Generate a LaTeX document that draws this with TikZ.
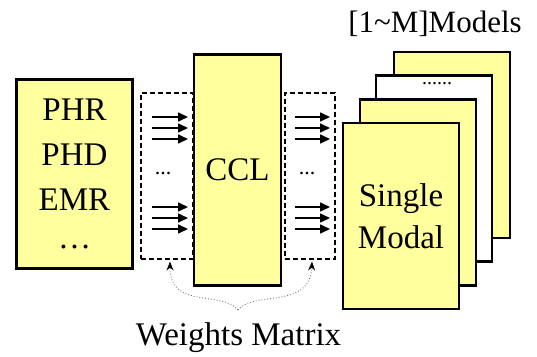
\documentclass[tikz,border=0pt]{standalone}
\usepackage{fontspec}
\setmainfont{LiberationSerif}[Extension=.ttf, UprightFont=*-Regular, BoldFont=*-Bold]
\usetikzlibrary{arrows.meta}
\definecolor{paleyellow}{RGB}{255,255,158}
\definecolor{linkgray}{RGB}{120,120,120}

\tikzset{
  box/.style={draw=black, line width=2.6pt, fill=paleyellow, inner sep=0pt, align=center,
              font=\fontsize{33}{42}\selectfont},
  modelbox/.style={box, minimum width=116pt, minimum height=186pt},
  wbox/.style={draw=black, line width=1.1pt, dash pattern=on 5pt off 3pt, inner sep=0pt},
  bigtext/.style={font=\fontsize{33}{40}\selectfont, inner sep=0pt},
  dotstext/.style={font=\fontsize{22}{24}\selectfont, inner sep=0pt},
  flow/.style={line width=1.6pt, -{Triangle[length=10pt,width=9pt]}},
  link/.style={linkgray, dotted, line width=0.9pt, -{Stealth[black,length=9pt,width=7pt]}}
}

\begin{document}
\begin{tikzpicture}[x=1pt, y=-1pt]
\useasboundingbox (0,0) rectangle (537,356);

% input data sources
\node[box, minimum width=116pt, minimum height=189pt, font=\fontsize{33}{45}\selectfont]
  (src) at (74.5,174) {PHR\\PHD\\EMR\\[-7pt]\dots};

% weight matrices on either side of the CCL block
\node[wbox, minimum width=52pt, minimum height=166pt] (lw) at (167,176) {};
\node[wbox, minimum width=50pt, minimum height=166pt] (rw) at (310,176) {};

% cross-correlation layer
\node[box, minimum width=87pt, minimum height=231pt] (ccl) at (237.5,170) {CCL};

% stack of single-modal models, back to front
\node[modelbox] (m4) at (452,145) {};
\node[modelbox, fill=white] (m3) at (434,168.5) {};
\node[dotstext, font=\fontsize{20}{22}\selectfont] (mdots) at (437,84) {......};
\node[modelbox] (m2) at (418,192.5) {};
\node[modelbox] (m1) at (401,216) {Single\\Modal};

% labels
\node[bigtext, anchor=base, font=\fontsize{31}{36}\selectfont] (models) at (435,32) {[1\char"007E M]Models};
\node[bigtext, anchor=base] (wm) at (238.5,345) {Weights Matrix};

% arrow bundles inside the weight matrices
\foreach \y [count=\i] in {117,128,139,207,218,229} {
  \coordinate (la\i) at (152,\y);
  \coordinate (lb\i) at (188,\y);
  \coordinate (ra\i) at (295,\y);
  \coordinate (rb\i) at (330,\y);
  \draw[flow] (la\i) -- (lb\i);
  \draw[flow] (ra\i) -- (rb\i);
}
\node[dotstext] (ldots) at (163,174) {...};
\node[dotstext] (rdots) at (307,174) {...};

% brace-like pointers from the label to both matrices
\coordinate (tip) at (238,310);
\draw[link] (tip) .. controls (222,290) and (170,310) .. ([xshift=3pt,yshift=-2pt]lw.south);
\draw[link] (tip) .. controls (254,290) and (310,310) .. ([xshift=2pt,yshift=-2pt]rw.south);
\end{tikzpicture}
\end{document}
